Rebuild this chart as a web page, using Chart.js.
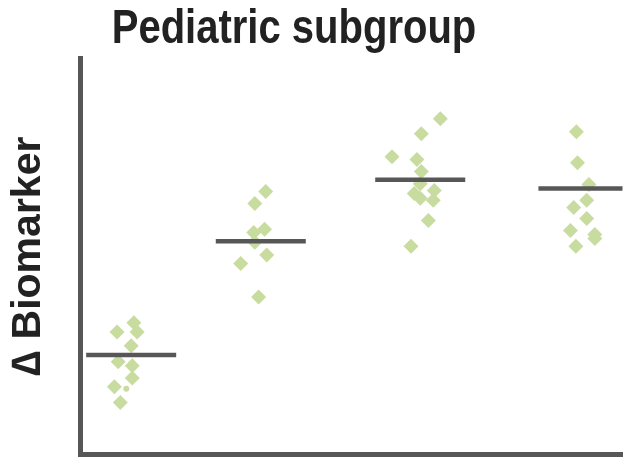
<!DOCTYPE html>
<html>
<head>
<meta charset="utf-8">
<script src="https://cdn.jsdelivr.net/npm/chart.js@4.4.0/dist/chart.umd.min.js"></script>
<style>
  html, body { margin: 0; padding: 0; background: #fff; overflow: hidden; }
  #wrap { width: 630px; height: 462px; }
</style>
</head>
<body>
<div id="wrap"><canvas id="chart"></canvas></div>
<script>
// Chart text
const titleText = 'Pediatric subgroup';
const yTitle = '\u2206 Biomarker';

// Group centres on the x axis and mean of each group
const groupCenters = [0.94, 3.33, 6.27, 9.28];
const groupMeans = [2.51, 5.38, 6.93, 6.71];
const meanHalfWidth = 0.83;

// Individual points (x jittered round each group centre)
const g1x = [0.99, 1.05, 0.68, 0.94, 0.70, 0.96, 0.96, 0.63, 0.74];
const g1y = [3.32, 3.09, 3.09, 2.74, 2.34, 2.24, 1.93, 1.71, 1.31];
const g2x = [3.42, 3.22, 3.40, 3.20, 3.22, 3.44, 2.96, 3.29];
const g2y = [6.63, 6.33, 5.68, 5.60, 5.35, 5.03, 4.82, 3.97];
const g3x = [6.64, 6.29, 5.75, 6.21, 6.29, 6.27, 6.53, 6.16, 6.27, 6.51, 6.42, 6.10];
const g3y = [8.47, 8.09, 7.51, 7.44, 7.14, 6.83, 6.66, 6.58, 6.46, 6.41, 5.90, 5.25];
const g4x = [9.15, 9.17, 9.38, 9.34, 9.10, 9.34, 9.04, 9.49, 9.49, 9.14];
const g4y = [8.14, 7.36, 6.81, 6.41, 6.23, 5.95, 5.65, 5.55, 5.45, 5.25];
// one small round marker in the first group
const dotX = [0.85];
const dotY = [1.66];

const pointColor = '#c9dca0';
const lineColor = '#575757';

function toPoints(xs, ys) {
  return xs.map((x, i) => ({ x: x, y: ys[i] }));
}

const scatterSets = [[g1x, g1y], [g2x, g2y], [g3x, g3y], [g4x, g4y]].map(([xs, ys]) => ({
  type: 'scatter',
  data: toPoints(xs, ys),
  pointStyle: 'rectRot',
  pointRadius: 7.5,
  pointHoverRadius: 7.5,
  backgroundColor: pointColor,
  borderWidth: 0,
  order: 2
}));

const meanSets = groupCenters.map((c, i) => ({
  type: 'line',
  data: [{ x: c - meanHalfWidth, y: groupMeans[i] }, { x: c + meanHalfWidth, y: groupMeans[i] }],
  borderColor: lineColor,
  borderWidth: 4.5,
  pointRadius: 0,
  borderCapStyle: 'butt',
  order: 1
}));

const dotSet = {
  type: 'scatter',
  data: toPoints(dotX, dotY),
  pointStyle: 'circle',
  pointRadius: 3,
  backgroundColor: pointColor,
  borderWidth: 0,
  order: 2
};

// title drawn a little taller than wide, centred like the original
const titlePlugin = {
  id: 'tallTitle',
  afterDraw(chart) {
    const ctx = chart.ctx;
    ctx.save();
    ctx.scale(1, 1.2);
    ctx.font = 'bold 40px "Liberation Sans", Arial, sans-serif';
    ctx.fillStyle = '#222';
    ctx.textAlign = 'center';
    ctx.textBaseline = 'alphabetic';
    ctx.fillText(titleText, 294, 43 / 1.2);
    ctx.restore();
  }
};

new Chart(document.getElementById('chart'), {
  data: { datasets: [...meanSets, ...scatterSets, dotSet] },
  options: {
    responsive: true,
    maintainAspectRatio: false,
    animation: false,
    layout: { padding: { top: 58, left: 0, right: 0, bottom: -1 } },
    plugins: {
      legend: { display: false },
      tooltip: { enabled: false }
    },
    scales: {
      x: {
        type: 'linear',
        min: 0,
        max: 10,
        grid: { display: false },
        ticks: { display: false },
        border: { color: lineColor, width: 5 }
      },
      y: {
        min: 0,
        max: 10,
        grid: { display: false },
        ticks: { display: false },
        border: { color: lineColor, width: 5 },
        title: {
          display: true,
          text: yTitle,
          color: '#222',
          font: { family: '"Liberation Sans", Arial, sans-serif', size: 41, weight: 'bold' },
          padding: { top: 4, bottom: 19 }
        }
      }
    }
  },
  plugins: [titlePlugin]
});
</script>
</body>
</html>
